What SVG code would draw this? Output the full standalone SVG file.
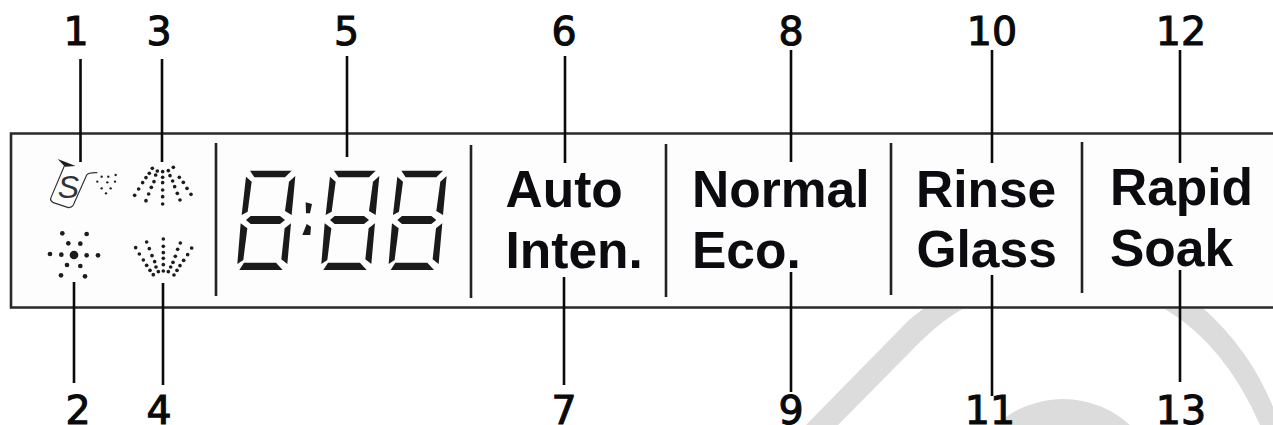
<svg xmlns="http://www.w3.org/2000/svg" xmlns:xlink="http://www.w3.org/1999/xlink" width="1273" height="425" viewBox="0 0 1273 425">
<style>
.num{font-family:"DejaVu Sans","Liberation Sans",sans-serif;font-size:39.5px;fill:#0a0a0a;stroke:#0a0a0a;stroke-width:1.1px;text-anchor:middle;font-weight:400}
.lab{font-family:"Liberation Sans",Arial,sans-serif;font-size:51.5px;font-weight:700;fill:#0c0c10}
.ln{stroke:#0a0a0a;stroke-width:2.6;fill:none}
.div{stroke:#222;stroke-width:2.6;fill:none}
.wm{fill:#dcdcdc}
.seg{fill:#1a1a1a}
.d{fill:#1c1c1c}
.can{fill:none;stroke:#333;stroke-width:3.5}
</style>
<defs>
<g id="digit" class="seg">
<polygon points="120,122 245,122 225,142 133,142"/>
<polygon points="108,140 125,155 113,245 95,255"/>
<polygon points="256,138 245,255 225,243 237,155"/>
<polygon points="108,270 122,258 210,258 225,270 210,282 122,282"/>
<polygon points="92,280 112,295 100,390 82,402"/>
<polygon points="243,280 232,402 214,388 224,295"/>
<polygon points="102,398 198,398 218,420 88,420"/>
</g>
</defs>
<rect width="1273" height="425" fill="#fff"/>
<g id="watermark">
<path class="wm" d="M806 425L909 320Q915 315 923 309L963 309Q945 318 920 342L838 425Z"/>
<circle class="wm" cx="1063" cy="498" r="99"/>
<path class="wm" d="M1165 309Q1225 345 1260 425L1273 425L1273 407Q1250 350 1203 308Z"/>
</g>
<g id="panel">
<path d="M1273 133.5H11V307.5H1273" fill="#fdfdfd" stroke="#2a2a2a" stroke-width="2.6"/>
<path class="div" d="M216 143V296M471 145V298M666 144V297M891 143V295M1082 142V293"/>
</g>
<g id="connectors">
<path class="ln" d="M80.5 59V162M162 59V162M347 56V157M565 56V163M791 50V162M992 50V163M1180 50V163"/>
<path class="ln" d="M74 282V383M163 283V385M564 277V385M791 272V392M992 275V396M1180 270V382"/>
</g>
<g id="icon-1" transform="translate(20 130) scale(.3333)">
<polygon class="d" points="113,87 167,108 135,110"/>
<path class="can" d="M133 108L92 205Q90 212 100 218L145 233Q155 233 160 225L200 135Q205 127 232 128"/>
<text x="113" y="203" font-family="Liberation Sans,sans-serif" font-style="italic" font-size="96" fill="#333">S</text>
<g class="d"><circle cx="232" cy="155" r="3.5"/><circle cx="245" cy="140" r="3.5"/><circle cx="265" cy="140" r="3.5"/><circle cx="287" cy="135" r="3.5"/><circle cx="262" cy="157" r="3.5"/><circle cx="285" cy="155" r="3.5"/><circle cx="245" cy="175" r="3.5"/><circle cx="272" cy="175" r="3.5"/><circle cx="258" cy="190" r="3.5"/></g>
</g>
<g id="icon-2" class="d" transform="translate(20 130) scale(.3333)">
<circle cx="162" cy="375" r="13"/><circle cx="127" cy="310" r="7"/><circle cx="200" cy="312" r="7"/><circle cx="145" cy="340" r="7"/><circle cx="181" cy="341" r="7"/><circle cx="90" cy="372" r="7"/><circle cx="124" cy="374" r="7"/><circle cx="200" cy="376" r="7"/><circle cx="234" cy="376" r="7"/><circle cx="141" cy="405" r="7"/><circle cx="181" cy="408" r="7"/><circle cx="123" cy="436" r="7"/><circle cx="195" cy="439" r="7"/>
</g>
<g id="icon-3" class="d" transform="translate(20 130) scale(.3333)">
<circle cx="397" cy="115" r="5.5"/><circle cx="412" cy="123" r="5.5"/><circle cx="428" cy="125" r="5.5"/><circle cx="445" cy="122" r="5.5"/><circle cx="460" cy="112" r="5.5"/><circle cx="388" cy="130" r="5.5"/><circle cx="407" cy="135" r="5.5"/><circle cx="428" cy="142" r="5.5"/><circle cx="450" cy="137" r="5.5"/><circle cx="478" cy="142" r="5.5"/><circle cx="378" cy="143" r="5.5"/><circle cx="402" cy="155" r="5.5"/><circle cx="428" cy="158" r="5.5"/><circle cx="458" cy="153" r="5.5"/><circle cx="490" cy="157" r="5.5"/><circle cx="368" cy="158" r="5.5"/><circle cx="394" cy="172" r="5.5"/><circle cx="428" cy="180" r="5.5"/><circle cx="464" cy="170" r="5.5"/><circle cx="501" cy="175" r="5.5"/><circle cx="356" cy="177" r="5.5"/><circle cx="386" cy="192" r="5.5"/><circle cx="428" cy="200" r="5.5"/><circle cx="472" cy="190" r="5.5"/><circle cx="513" cy="193" r="5.5"/><circle cx="344" cy="196" r="5.5"/><circle cx="378" cy="212" r="5.5"/><circle cx="428" cy="222" r="5.5"/><circle cx="480" cy="210" r="5.5"/>
</g>
<g id="icon-4" class="d" transform="translate(20 130) scale(.3333)">
<circle cx="380" cy="336" r="5.5"/><circle cx="430" cy="327" r="5.5"/><circle cx="481" cy="339" r="5.5"/><circle cx="347" cy="353" r="5.5"/><circle cx="388" cy="356" r="5.5"/><circle cx="430" cy="349" r="5.5"/><circle cx="473" cy="358" r="5.5"/><circle cx="515" cy="354" r="5.5"/><circle cx="358" cy="372" r="5.5"/><circle cx="396" cy="377" r="5.5"/><circle cx="430" cy="368" r="5.5"/><circle cx="466" cy="379" r="5.5"/><circle cx="503" cy="374" r="5.5"/><circle cx="370" cy="390" r="5.5"/><circle cx="404" cy="395" r="5.5"/><circle cx="430" cy="385" r="5.5"/><circle cx="459" cy="397" r="5.5"/><circle cx="491" cy="391" r="5.5"/><circle cx="380" cy="406" r="5.5"/><circle cx="408" cy="411" r="5.5"/><circle cx="430" cy="404" r="5.5"/><circle cx="452" cy="411" r="5.5"/><circle cx="480" cy="407" r="5.5"/><circle cx="390" cy="421" r="5.5"/><circle cx="415" cy="425" r="5.5"/><circle cx="430" cy="423" r="5.5"/><circle cx="445" cy="425" r="5.5"/><circle cx="471" cy="421" r="5.5"/><circle cx="400" cy="434" r="5.5"/><circle cx="462" cy="435" r="5.5"/>
</g>
<g id="display" transform="translate(210 130) scale(.3333)">
<use xlink:href="#digit" href="#digit"/>
<use xlink:href="#digit" href="#digit" x="252"/>
<use xlink:href="#digit" href="#digit" x="454"/>
<polygon class="seg" points="287,217 306,222 300,250 288,250"/>
<polygon class="seg" points="290,282 303,290 301,315 277,315"/>
</g>
<g id="labels">
<text class="lab" x="505.5" y="207">Auto</text>
<text class="lab" x="505.5" y="268">Inten.</text>
<text class="lab" x="692" y="207">Normal</text>
<text class="lab" x="692" y="268">Eco.</text>
<text class="lab" x="916" y="207">Rinse</text>
<text class="lab" x="916.5" y="267">Glass</text>
<text class="lab" x="1110" y="205">Rapid</text>
<text class="lab" x="1110" y="266">Soak</text>
</g>
<g id="numbers">
<text class="num" x="76" y="45">1</text>
<text class="num" x="159" y="45">3</text>
<text class="num" x="346.5" y="45">5</text>
<text class="num" x="564" y="45">6</text>
<text class="num" x="791" y="45">8</text>
<text class="num" x="992" y="45">10</text>
<text class="num" x="1181" y="45">12</text>
<text class="num" x="78" y="424">2</text>
<text class="num" x="159" y="424">4</text>
<text class="num" x="564" y="424">7</text>
<text class="num" x="791" y="424">9</text>
<text class="num" x="990" y="424">11</text>
<text class="num" x="1181" y="424">13</text>
</g>
</svg>
